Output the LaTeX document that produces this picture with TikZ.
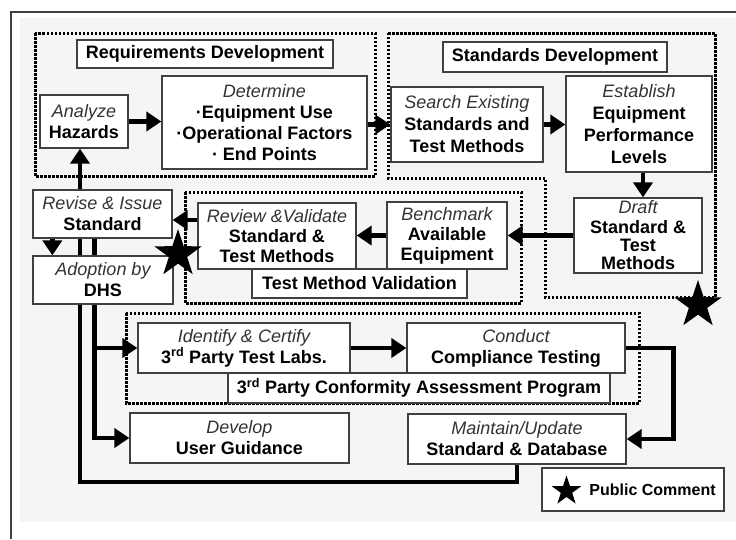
\documentclass[tikz,border=0pt]{standalone}
\usepackage{fontspec}
\setmainfont{Liberation Sans}
\usepackage{xcolor}
\usepackage{tikz}
\usetikzlibrary{arrows.meta}
\usetikzlibrary{backgrounds}
\usetikzlibrary{shapes.geometric}
\newcommand{\kursiv}[1]{{\mdseries\itshape\color{black!80}#1}}
\tikzset{
  Kasten/.style 2 args={draw=black!75, line width=1.3pt, fill=white, align=center,
    inner sep=0pt, minimum width=#1, minimum height=#2,
    font=\fontsize{18}{21}\selectfont\bfseries}, % Prozessschritte
  Pfeil/.style={line width=4.5pt,->}, % Verbindungen
  Rahmen/.style={line width=3pt, dash pattern=on 2.5pt off 1.5pt}, % Gruppen
  Stern/.style={star, star points=5, star point ratio=2.6, fill=black,
    inner sep=0pt, minimum size=#1} % Public Comment
}

\begin{document}
\begin{tikzpicture}[x=1pt, y=-1pt,
>={Triangle[length=15pt,width=19pt]} % Voreinstellung fuer Pfeilspitzen
]
\useasboundingbox (0,0) rectangle (736,539);

%Kaesten
\node[Kasten={256pt}{28pt}] (reqtitel) at (205,54) {Requirements Development};
\node[Kasten={88pt}{53pt}] (analyze) at (84,121.5) {\kursiv{Analyze}\\Hazards};
\node[Kasten={205pt}{93pt}] (determine) at (264.5,122.5)
  {\kursiv{Determine}\\·Equipment Use\\·Operational Factors\\· End Points};

\node[Kasten={224pt}{30pt}] (stdtitel) at (555,57) {Standards Development};
\node[Kasten={152pt}{75pt}] (search) at (467,124.5)
  {\kursiv{Search Existing}\\[1pt]Standards and\\[1pt]Test Methods};
\node[Kasten={146pt}{96pt}] (establish) at (639,124)
  {\kursiv{Establish}\\[1pt]Equipment\\[1pt]Performance\\[1pt]Levels};
\node[Kasten={128pt}{75pt}] (draft) at (638,235.5)
  {\kursiv{Draft}\\[-1pt]Standard \&\\[-3pt]Test\\[-3pt]Methods};

\node[Kasten={120pt}{67pt}] (benchmark) at (447,235.5)
  {\kursiv{Benchmark}\\[-1pt]Available\\[-1pt]Equipment};
\node[Kasten={158pt}{66pt}] (review) at (277,236)
  {\kursiv{Review \&Validate}\\[-1pt]Standard \&\\[-1pt]Test Methods};
\node[Kasten={215pt}{29pt}] (tmvtitel) at (359.5,283.5) {Test Method Validation};

\node[Kasten={139pt}{48pt}] (revise) at (102.5,214) {\kursiv{Revise \& Issue}\\Standard};
\node[Kasten={140pt}{48pt}] (adoption) at (103,280) {\kursiv{Adoption by}\\DHS};

\node[Kasten={212pt}{50pt}] (identify) at (244,348)
  {\kursiv{Identify \& Certify}\\3\textsuperscript{rd} Party Test Labs.};
\node[Kasten={218pt}{50pt}] (conduct) at (516,348) {\kursiv{Conduct}\\Compliance Testing};
\node[Kasten={382pt}{30pt}] (konftitel) at (419,388)
  {3\textsuperscript{rd} Party Conformity Assessment Program};

\node[Kasten={219pt}{50pt}] (develop) at (239.5,438) {\kursiv{Develop}\\User Guidance};
\node[Kasten={218pt}{50pt}] (maintain) at (517,439)
  {\kursiv{Maintain/Update}\\Standard \& Database};

\node[Kasten={182pt}{43pt}, font=\fontsize{16}{19}\selectfont\bfseries] (legende) at (633,489.5)
  {\hspace*{39pt}Public Comment};

%Sterne
\node[Stern=50pt] (stern1) at (178,254) {};
\node[Stern=50pt] (stern2) at (698,305) {};
\node[Stern=31pt] (stern3) at (566.5,491) {};

\begin{scope}[on background layer]
%Hintergrund
\fill[black!4] (20,18) rectangle (736,522);
\draw[black!75, line width=1.2pt] (11,539) -- (11,12) -- (736,12);

%Gruppenrahmen
\draw[Rahmen] (35,33) rectangle (375,176);
\draw[Rahmen] (388,33) -- (715,33) -- (715,297) -- (545,297) -- (545,178) -- (388,178) -- cycle;
\draw[Rahmen] (185,192) rectangle (521,303);
\draw[Rahmen] (126,313) rectangle (639,403);

%Pfeile
\draw[Pfeil] (analyze.east) -- (analyze.east -| determine.west);
\draw[Pfeil] (determine.east |- search.west) -- (search.west);
\draw[Pfeil] (search.east) -- (search.east -| establish.west);
\draw[Pfeil] ([xshift=4pt]establish.south) -- ([xshift=4pt]establish.south |- draft.north);
\draw[Pfeil] (draft.west) -- (benchmark.east);
\draw[Pfeil] (benchmark.west) -- (benchmark.west -| review.east);
\draw[Pfeil] ([yshift=16pt]review.west) -- ([yshift=16pt]review.west -| revise.east);
\draw[Pfeil] ([xshift=20pt]revise.south west) -- ([xshift=20pt]revise.south west |- adoption.north);

\coordinate (verteiler) at ([xshift=62pt]revise.south west);
\draw[Pfeil] (verteiler) |- (develop.west);
\draw[Pfeil] (verteiler |- identify.west) -- (identify.west);
\draw[Pfeil] (identify.east) -- (conduct.west);
\draw[Pfeil] (conduct.east) -- ++(48,0) |- (maintain.east);

\coordinate (ecke) at (80,482);
\draw[Pfeil] (maintain.south) |- (ecke) -- (ecke |- analyze.south);
\end{scope}

\end{tikzpicture}
\end{document}
